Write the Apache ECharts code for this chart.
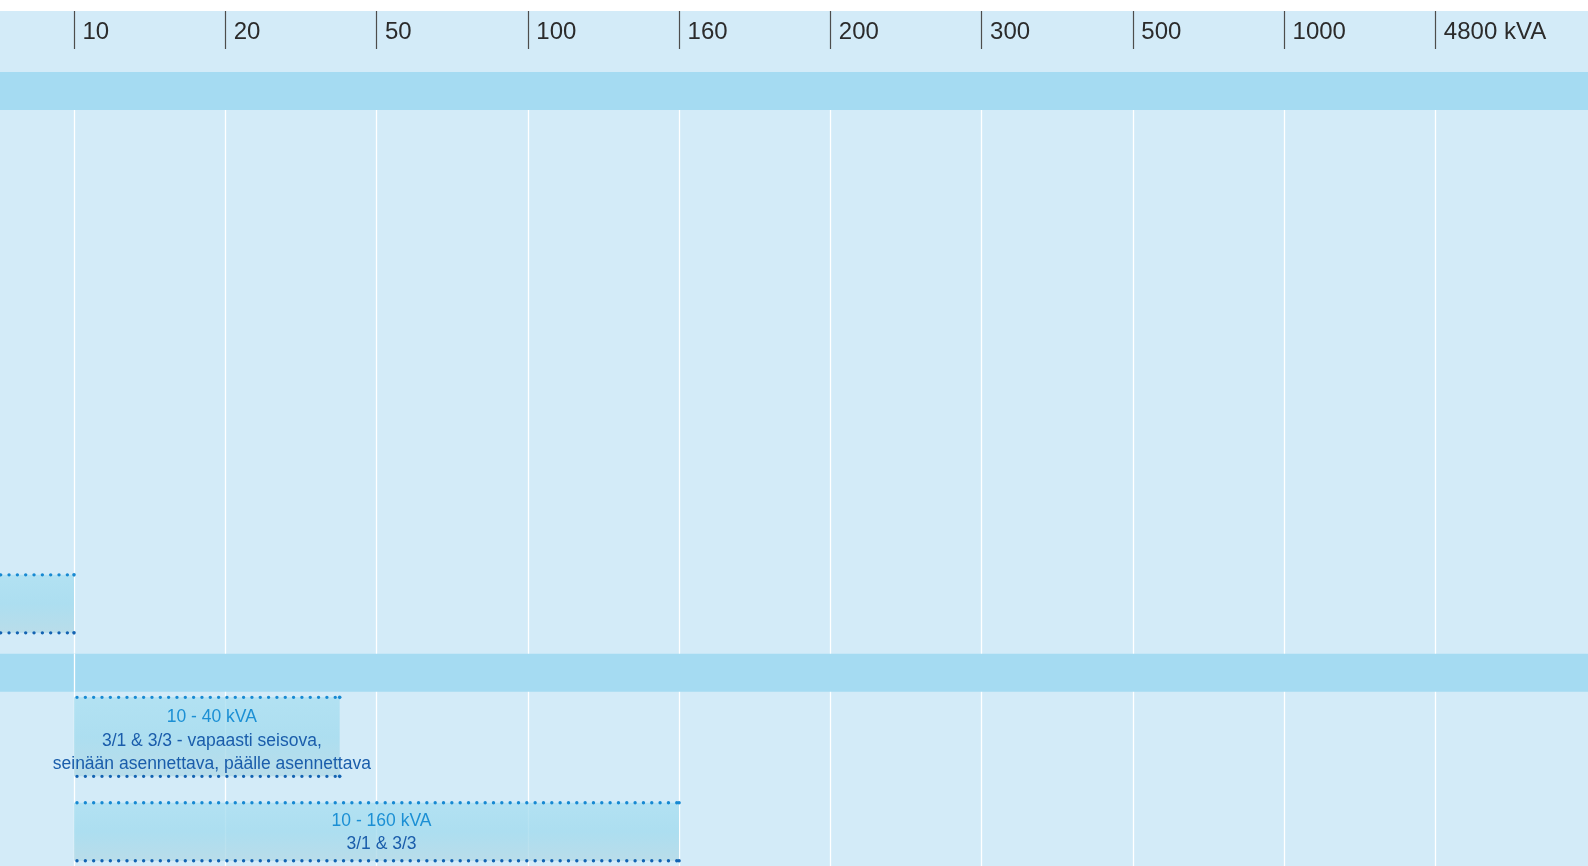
<!DOCTYPE html>
<html>
<head>
<meta charset="utf-8">
<title>kVA range</title>
<script src="https://cdn.jsdelivr.net/npm/echarts@6/dist/echarts.min.js"></script>
<style>
  html, body { margin: 0; padding: 0; background: #fff; }
  #chart { position: absolute; left: 0; top: 11px; width: 1588px; height: 855px; }
</style>
</head>
<body>
<div id="chart"></div>
<script>
// tick labels along the top (kVA)
const tickKva = [10, 20, 50, 100, 160, 200, 300, 500, 1000, 4800]
const tickLabels = ['10', '20', '50', '100', '160', '200', '300', '500', '1000', '4800 kVA']

// product ranges, null = starts before the first tick
const rangeFrom = [null, 10, 10]
const rangeTo = [10, 40, 160]
const rangeTitles = ['', '10 - 40 kVA', '10 - 160 kVA']
const rangeNotes = [
  [],
  ['3/1 & 3/3 - vapaasti seisova,', 'seinään asennettava, päälle asennettava'],
  ['3/1 & 3/3']
]

// layout (row units on the hidden y axis, 1 row = 95px)
const rangeRows = [5.6, 7, 8]
const headerBands = [[0, 0.4], [6.126, 6.526]]
const colWidth = 151.26
const firstTickX = 74
const chartWidth = 1588
const yTop = -23 / 95
const yBottom = 8.36

// kVA -> column position, log interpolated between ticks
function kvaToPos(v) {
  if (v === null) {
    return -1
  }
  for (let i = 0; i < tickKva.length - 1; i++) {
    if (v <= tickKva[i + 1]) {
      return i + Math.log(v / tickKva[i]) / Math.log(tickKva[i + 1] / tickKva[i])
    }
  }
  return tickKva.length - 1
}

const rangeData = rangeTo.map((to, i) => [kvaToPos(rangeFrom[i]), kvaToPos(to), rangeRows[i]])

function renderRange(params, api) {
  const i = params.dataIndex
  const textLines = rangeNotes[i].length + 1
  const lineCount = Math.max(2, textLines)
  const h = 16 + 21 * lineCount
  const start = api.coord([api.value(0), api.value(2)])
  const end = api.coord([api.value(1), api.value(2)])
  const x0 = start[0]
  const x1 = end[0]
  const yc = start[1]
  const y0 = yc - h / 2
  const y1 = yc + h / 2
  const dots = { lineWidth: 3.4, lineDash: [0, 8.33], lineCap: 'round' }
  const children = [
    {
      type: 'rect',
      shape: { x: x0, y: y0, width: x1 - x0, height: h },
      style: {
        fill: new echarts.graphic.LinearGradient(0, 0, 0, 1, [
          { offset: 0, color: 'rgba(170,223,241,0.8)' },
          { offset: 0.5, color: 'rgba(163,219,238,0.8)' },
          { offset: 1, color: 'rgba(178,217,230,0.8)' }
        ])
      }
    },
    { type: 'line', shape: { x1: x0 + 3, y1: y0, x2: x1, y2: y0 }, style: Object.assign({ stroke: '#1789d2' }, dots) },
    { type: 'line', shape: { x1: x0 + 3, y1: y1, x2: x1, y2: y1 }, style: Object.assign({ stroke: '#1363b2' }, dots) },
    { type: 'circle', shape: { cx: x1, cy: y0, r: 1.8 }, style: { fill: '#1789d2' } },
    { type: 'circle', shape: { cx: x1, cy: y1, r: 1.8 }, style: { fill: '#1363b2' } }
  ]
  if (rangeTitles[i]) {
    const text = ['{t|' + rangeTitles[i] + '}'].concat(rangeNotes[i].map(s => '{d|' + s + '}')).join('\n')
    children.push({
      type: 'text',
      // labels sit a little right of the bar centre
      x: (x0 + x1) / 2 + 5,
      y: yc + 1 + (textLines - 2) * 3,
      style: {
        text: text,
        align: 'center',
        verticalAlign: 'middle',
        fontFamily: 'Liberation Sans',
        fontSize: 17,
        rich: {
          t: { fontFamily: 'Liberation Sans', fontSize: 17.5, lineHeight: 23.5, fill: '#1b8fd4', align: 'center' },
          d: { fontFamily: 'Liberation Sans', fontSize: 17.5, lineHeight: 23.5, fill: '#1a5dab', align: 'center' }
        }
      }
    })
  }
  return { type: 'group', children: children }
}

const xMin = -firstTickX / colWidth
const xMax = (chartWidth - firstTickX) / colWidth
const tickPos = tickKva.map((v, i) => i)

const chart = echarts.init(document.getElementById('chart'))
chart.setOption({
  backgroundColor: '#d3ebf8',
  animation: false,
  grid: {
    left: 0,
    right: 0,
    top: 38,
    bottom: 0
  },
  xAxis: {
    type: 'value',
    position: 'top',
    min: xMin,
    max: xMax,
    axisLine: { show: false, onZero: false },
    axisTick: {
      show: true,
      length: 38,
      customValues: tickPos,
      lineStyle: { color: '#4d4d4d', width: 1.2 }
    },
    axisLabel: {
      customValues: tickPos,
      formatter: v => tickLabels[Math.round(v)] || '',
      align: 'left',
      verticalAlign: 'middle',
      margin: 17,
      padding: [0, 0, 0, 8.5],
      fontFamily: 'Liberation Sans',
      fontSize: 24,
      color: '#2b2b2b'
    },
    splitLine: { show: true, lineStyle: { color: '#ffffff', width: 1.3 } }
  },
  yAxis: {
    type: 'value',
    inverse: true,
    min: yTop,
    max: yBottom,
    show: false
  },
  series: [
    {
      type: 'line',
      data: [],
      silent: true,
      markArea: {
        silent: true,
        data: [
          // gap under the tick labels, no grid lines there
          [{ xAxis: xMin, yAxis: yTop, itemStyle: { color: '#d3ebf8' } }, { xAxis: xMax, yAxis: 0 }]
        ].concat(headerBands.map(b => [
          { xAxis: xMin, yAxis: b[0], itemStyle: { color: '#a5dbf2' } },
          { xAxis: xMax, yAxis: b[1] }
        ]))
      },
      markLine: {
        silent: true,
        symbol: 'none',
        label: { show: false },
        lineStyle: { color: '#ffffff', width: 1.3, type: 'solid' },
        data: [[{ coord: [0, headerBands[1][0]] }, { coord: [0, headerBands[1][1]] }]]
      }
    },
    {
      type: 'custom',
      renderItem: renderRange,
      encode: { x: [0, 1], y: 2 },
      data: rangeData,
      z: 3
    }
  ]
})
</script>
</body>
</html>
